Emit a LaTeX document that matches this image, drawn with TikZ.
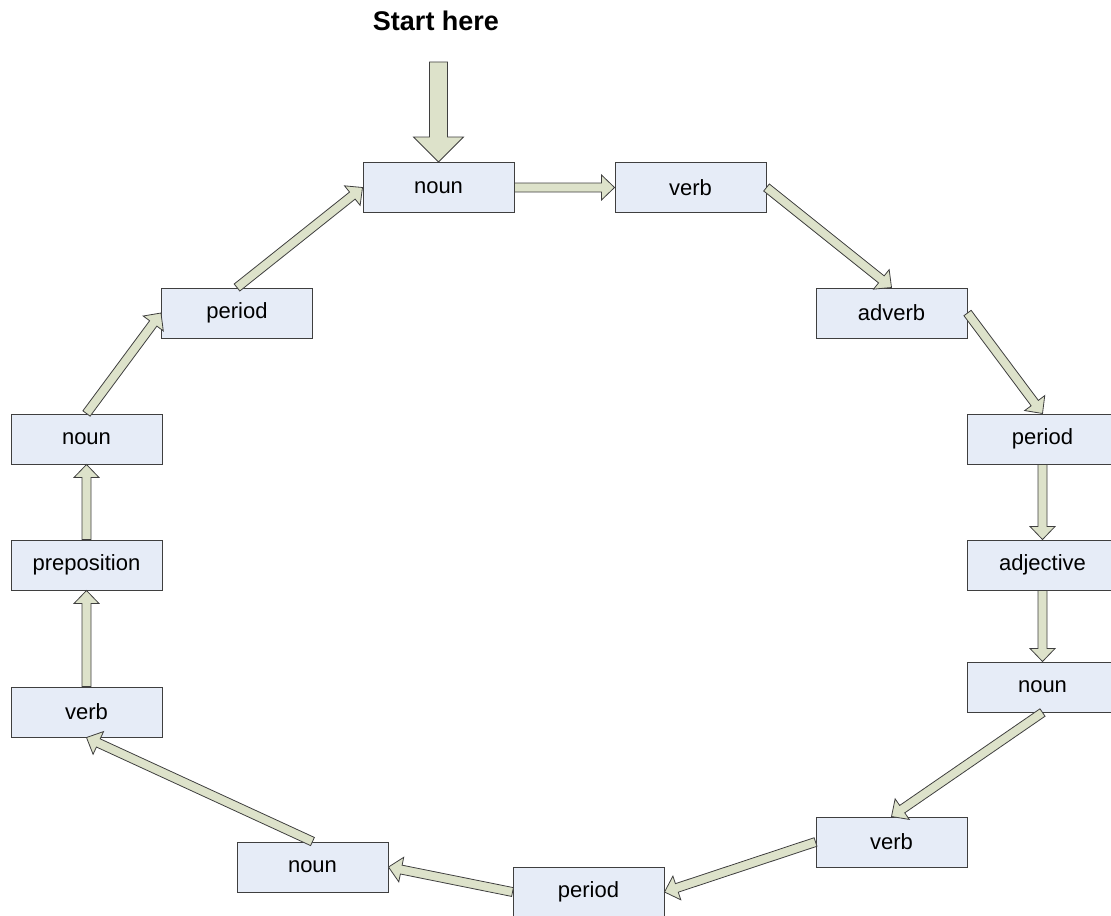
\documentclass[tikz,border=0pt]{standalone}
\usepackage{fontspec}
\setmainfont{Liberation Sans}
\usepackage{xcolor}
\usepackage{tikz}
\usetikzlibrary{calc}
\definecolor{BoxFill}{HTML}{E6ECF7}
\definecolor{ArrowFill}{HTML}{DDE2CA}
\definecolor{Edge}{HTML}{3F3F3F}

% block arrow from #1 to #2: half shaft #3, half head #4, head length #5
\newcommand{\fatarrow}[5]{%
  \draw[fatarrow] ($(#1)!#3!90:(#2)$)
    -- ($($(#2)!#5!(#1)$)!#3!90:(#2)$)
    -- ($($(#2)!#5!(#1)$)!#4!90:(#2)$)
    -- (#2)
    -- ($($(#2)!#5!(#1)$)!#4!-90:(#2)$)
    -- ($($(#2)!#5!(#1)$)!#3!-90:(#2)$)
    -- ($(#1)!#3!-90:(#2)$) -- cycle;}
\newcommand{\linkarrow}[2]{\fatarrow{#1}{#2}{2.25pt}{6.25pt}{6.5pt}}

\begin{document}
\begin{tikzpicture}[x=0.5pt,y=-0.5pt,
    word/.style={draw=Edge,line width=0.5pt,fill=BoxFill,minimum width=75.5pt,
      minimum height=25pt,inner sep=0pt,font=\fontsize{11}{13}\selectfont},
    fatarrow/.style={draw=Edge,line width=0.4pt,fill=ArrowFill,line join=miter}]
  \useasboundingbox (0,0) rectangle (1111,915);

  \node[font=\bfseries\fontsize{13.5}{16}\selectfont] (start) at (436,21) {Start here};
  \coordinate (entry) at (438.5,62);

  % the loop, clockwise from the top
  \node[word] (nT)   at (438.5,187.5) {noun};
  \node[word] (vT)   at (690.5,187.5) {verb};
  \node[word] (adv)  at (891.5,313)   {adverb};
  \node[word] (perR) at (1042.5,439)  {period};
  \node[word] (adj)  at (1042.5,565)  {adjective};
  \node[word] (nR)   at (1042.5,687)  {noun};
  \node[word] (vB)   at (891.5,842)   {verb};
  \node[word] (perB) at (588.5,892)   {period};
  \node[word] (nB)   at (312.5,867)   {noun};
  \node[word] (vL)   at (86.5,712)    {verb};
  \node[word] (prep) at (86.5,565)    {preposition};
  \node[word] (nL)   at (86.5,439)    {noun};
  \node[word] (perL) at (237,313)     {period};

  \fatarrow{entry}{nT.north}{4.5pt}{12.5pt}{12.5pt}
  \linkarrow{nT.east}{vT.west}
  \linkarrow{vT.east}{adv.north}
  \linkarrow{adv.east}{perR.north}
  \linkarrow{perR.south}{adj.north}
  \linkarrow{adj.south}{nR.north}
  \linkarrow{nR.south}{vB.north}
  \linkarrow{vB.west}{perB.east}
  \linkarrow{perB.west}{nB.east}
  \linkarrow{nB.north}{vL.south}
  \linkarrow{vL.north}{prep.south}
  \linkarrow{prep.north}{nL.south}
  \linkarrow{nL.north}{perL.west}
  \linkarrow{perL.north}{nT.west}
\end{tikzpicture}
\end{document}
